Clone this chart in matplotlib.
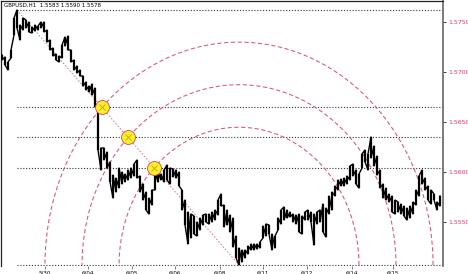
import numpy as np
import matplotlib
matplotlib.use("Agg")
import matplotlib.pyplot as plt

# ---- data ----
title_text = "GBPUSD,H1  1.5583 1.5590 1.5578"
bar_high = [1.5717, 1.5715, 1.5710, 1.5722, 1.5754, 1.5762, 1.5747, 1.5754, 1.5752, 1.5750,
            1.5745, 1.5747, 1.5746, 1.5750, 1.5750, 1.5742, 1.5732, 1.5724, 1.5718, 1.5716,
            1.5727, 1.5735, 1.5736, 1.5722, 1.5712, 1.5706, 1.5702, 1.5696, 1.5690, 1.5686,
            1.5688, 1.5684, 1.5667, 1.5624, 1.5624, 1.5620, 1.5610, 1.5597, 1.5594, 1.5604,
            1.5600, 1.5598, 1.5602, 1.5604, 1.5608, 1.5612, 1.5596, 1.5588, 1.5580, 1.5574,
            1.5582, 1.5600, 1.5600, 1.5598, 1.5602, 1.5607, 1.5604, 1.5603, 1.5602, 1.5600,
            1.5582, 1.5572, 1.5560, 1.5558, 1.5556, 1.5550, 1.5554, 1.5557, 1.5558, 1.5558,
            1.5560, 1.5562, 1.5572, 1.5578, 1.5567, 1.5562, 1.5557, 1.5554, 1.5536, 1.5524,
            1.5522, 1.5522, 1.5526, 1.5528, 1.5528, 1.5528, 1.5530, 1.5546, 1.5548, 1.5547,
            1.5538, 1.5536, 1.5554, 1.5562, 1.5565, 1.5562, 1.5560, 1.5558, 1.5557, 1.5558,
            1.5556, 1.5560, 1.5562, 1.5560, 1.5558, 1.5560, 1.5562, 1.5568, 1.5564, 1.5576,
            1.5580, 1.5586, 1.5592, 1.5593, 1.5594, 1.5596, 1.5606, 1.5608, 1.5602, 1.5598,
            1.5618, 1.5622, 1.5618, 1.5635, 1.5626, 1.5616, 1.5602, 1.5588, 1.5584, 1.5578,
            1.5576, 1.5572, 1.5570, 1.5568, 1.5566, 1.5564, 1.5566, 1.5570, 1.5582, 1.5596,
            1.5602, 1.5594, 1.5586, 1.5582, 1.5578, 1.5570, 1.5576]
bar_low = [1.5712, 1.5707, 1.5702, 1.5714, 1.5737, 1.5744, 1.5732, 1.5742, 1.5744, 1.5740,
           1.5739, 1.5741, 1.5742, 1.5744, 1.5740, 1.5730, 1.5722, 1.5716, 1.5712, 1.5710,
           1.5714, 1.5726, 1.5722, 1.5710, 1.5702, 1.5699, 1.5696, 1.5686, 1.5682, 1.5680,
           1.5677, 1.5665, 1.5622, 1.5602, 1.5612, 1.5604, 1.5590, 1.5574, 1.5580, 1.5584,
           1.5588, 1.5590, 1.5592, 1.5594, 1.5596, 1.5594, 1.5580, 1.5572, 1.5562, 1.5558,
           1.5567, 1.5582, 1.5590, 1.5592, 1.5590, 1.5592, 1.5588, 1.5595, 1.5594, 1.5586,
           1.5562, 1.5547, 1.5528, 1.5534, 1.5538, 1.5536, 1.5542, 1.5547, 1.5550, 1.5548,
           1.5550, 1.5552, 1.5557, 1.5566, 1.5545, 1.5547, 1.5540, 1.5525, 1.5514, 1.5507,
           1.5510, 1.5514, 1.5518, 1.5522, 1.5522, 1.5523, 1.5524, 1.5534, 1.5536, 1.5538,
           1.5522, 1.5524, 1.5542, 1.5548, 1.5552, 1.5554, 1.5555, 1.5550, 1.5548, 1.5540,
           1.5538, 1.5552, 1.5552, 1.5550, 1.5527, 1.5548, 1.5550, 1.5540, 1.5535, 1.5558,
           1.5562, 1.5576, 1.5582, 1.5586, 1.5586, 1.5588, 1.5592, 1.5596, 1.5588, 1.5584,
           1.5604, 1.5610, 1.5602, 1.5614, 1.5606, 1.5597, 1.5584, 1.5574, 1.5572, 1.5570,
           1.5560, 1.5558, 1.5560, 1.5558, 1.5556, 1.5552, 1.5554, 1.5558, 1.5567, 1.5576,
           1.5588, 1.5582, 1.5572, 1.5568, 1.5572, 1.5562, 1.5566]
date_labels = ["5/30", "6/04", "6/05", "6/06", "6/08", "6/11", "6/12", "6/14", "6/15"]
date_bars = [14.3, 28.7, 43.3, 57.7, 72.7, 87.0, 101.7, 116.7, 130.3]
price_labels = [1.5750, 1.5700, 1.5650, 1.5600, 1.5550]
fib_ratios = [0.382, 0.5, 0.618]

# ---- style ----
ARC = "#dc4068"
fig = plt.figure(figsize=(4.68, 2.74), dpi=100)
ax = fig.add_axes([1 / 468, 1 - 266 / 274, 442 / 468, 265 / 274])
ax.set_xlim(-1 / 3, 147)
ax.set_ylim(1.5506, 1.5771)

hi = np.array(bar_high)
lo = np.array(bar_low)
n = len(hi)
xs = np.arange(n)

# price bars as a continuous jagged path
px, py = [], []
for i in range(n):
    mid = hi[i] + lo[i]
    nxt = hi[i + 1] + lo[i + 1] if i < n - 1 else mid
    if nxt < mid:
        px += [i, i]; py += [hi[i], lo[i]]
    else:
        px += [i, i]; py += [lo[i], hi[i]]
ax.vlines(xs, lo, hi, color="black", lw=1.6, zorder=4)
ax.plot(px, py, color="black", lw=1.0, zorder=4)

# fibonacci construction
ia = int(np.argmax(hi)); H = hi[ia]
ib = int(np.argmin(lo)); L = lo[ib]
levels = [H] + [H - f * (H - L) for f in fib_ratios] + [L]
for lv in levels:
    ax.plot([ia, 147], [lv, lv], color="#333333", lw=0.8,
            ls=(0, (1, 1.6)), zorder=2)
ax.plot([ia, ib], [H, L], color=ARC, lw=0.6, ls=(0, (2, 2)), zorder=3, alpha=0.8)

theta = np.linspace(0, np.pi, 400)
for f in fib_ratios:
    rx = f * np.sqrt(2) * (ib - ia)
    ry = f * np.sqrt(2) * (H - L)
    ax.plot(ib + rx * np.cos(theta), L + ry * np.sin(theta), color=ARC,
            lw=0.75, ls=(0, (4, 2.5)), zorder=3, alpha=0.9)

for f in fib_ratios:
    cx = ia + f * (ib - ia)
    cy = H - f * (H - L)
    ax.plot([cx], [cy], marker="o", ms=10, mfc="#fff02a", mec="#e04050",
            mew=0.6, zorder=6)
    ax.plot([cx], [cy], marker="x", ms=4, color="#b8a020", mew=0.6, zorder=7)

# axes styling
for s in ["top", "left"]:
    ax.spines[s].set_color("#222222"); ax.spines[s].set_linewidth(0.9)
ax.spines["right"].set_color("#666666"); ax.spines["right"].set_linewidth(1.2)
ax.spines["bottom"].set_visible(False)

ax.yaxis.tick_right()
ax.set_yticks(price_labels)
ax.set_yticklabels([f"{p:.4f}" for p in price_labels])
ax.tick_params(axis="y", length=2, width=0.6, pad=1.5, labelsize=4.5,
               labelcolor=ARC, color="#222222")
ax.set_xticks(date_bars)
ax.set_xticklabels(date_labels)
ax.tick_params(axis="x", length=2, width=0.5, pad=1, labelsize=4,
               color="#444444")

ax.text(0.006, 0.995, title_text, transform=ax.transAxes, fontsize=4,
        va="top", ha="left", color="black")

fig.savefig("out.png", dpi=100)
